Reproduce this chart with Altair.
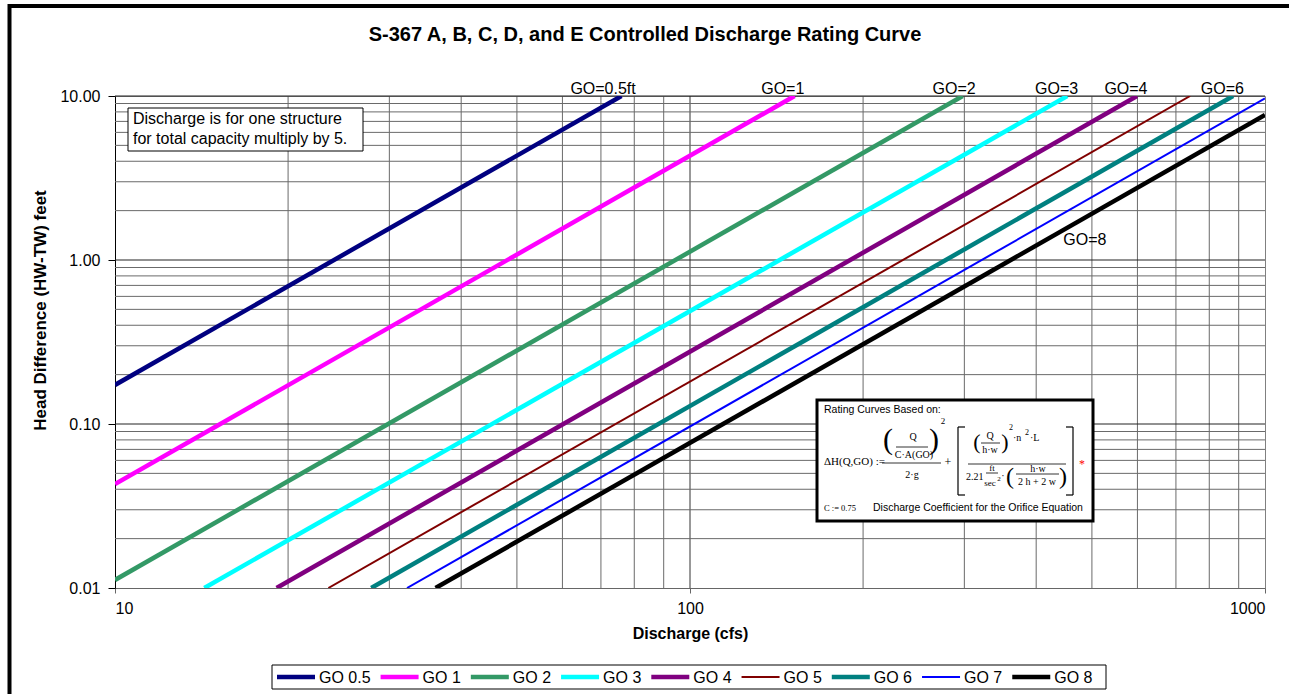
import altair as alt
import pandas as pd

# ---- rating lines: discharge (cfs) and head difference (ft) where each curve
# enters and leaves the plotted range
series = ["GO 0.5", "GO 1", "GO 2", "GO 3", "GO 4", "GO 5", "GO 6", "GO 7", "GO 8"]
colors = ["#000080", "#FF00FF", "#339966", "#00FFFF", "#800080",
          "#800000", "#008080", "#0000FF", "#000000"]
widths = [4.5, 4.5, 4.5, 4.5, 4.5, 2, 4.5, 2, 4.5]

q_start = [10, 10, 10, 14.3, 19.1, 23.5, 27.9, 32.2, 36.1]
h_start = [0.173, 0.043, 0.0112, 0.01, 0.01, 0.01, 0.01, 0.01, 0.01]
q_end = [76, 152, 298, 453, 599, 741, 880, 1000, 1000]
h_end = [10, 10, 10, 10, 10, 10, 10, 9.68, 7.66]

# ---- curve labels
top_labels = ["GO=0.5ft", "GO=1", "GO=2", "GO=3", "GO=4", "GO=6"]
top_label_q = [70.6, 145, 288, 434, 573, 843]
low_labels = ["GO=8"]
low_label_q = [486]
low_label_h = [1.32]

# ---- grid
x_minor = [20, 30, 40, 50, 60, 70, 80, 90, 200, 300, 400, 500, 600, 700, 800, 900]
x_major = [100]
y_minor = [0.02, 0.03, 0.04, 0.05, 0.06, 0.07, 0.08, 0.09,
           0.2, 0.3, 0.4, 0.5, 0.6, 0.7, 0.8, 0.9,
           2, 3, 4, 5, 6, 7, 8, 9]
y_major = [0.1, 1, 10]
x_ticks = [10, 100, 1000]
y_ticks = [0.01, 0.1, 1, 10]

SANS = "Liberation Sans"
SERIF = "Liberation Serif"
OX, OY = 115, 96          # plot origin inside the page
W, H = 1150, 492

rows = []
for s, x0, y0, x1, y1 in zip(series, q_start, h_start, q_end, h_end):
    rows.append({"series": s, "q": x0, "h": y0})
    rows.append({"series": s, "q": x1, "h": y1})
lines_df = pd.DataFrame(rows)

xs = alt.Scale(type="log", domain=[10, 1000], nice=False)
ys = alt.Scale(type="log", domain=[0.01, 10], nice=False)

x_axis = alt.Axis(values=x_ticks, format="d", grid=False, tickSize=5,
                  tickColor="#666666", domainColor="#666666",
                  labelFont=SANS, labelFontSize=16, labelColor="black",
                  labelPadding=7, title="Discharge (cfs)", titleFont=SANS,
                  titleFontSize=16, titleFontWeight="bold", titleColor="black",
                  titlePadding=9)
y_axis = alt.Axis(values=y_ticks, format=".2f", grid=False, tickSize=7,
                  tickColor="black", domainColor="black",
                  labelFont=SANS, labelFontSize=16, labelColor="black",
                  labelPadding=8, title="Head Difference (HW-TW) feet",
                  titleFont=SANS, titleFontSize=17, titleFontWeight="bold",
                  titleColor="black", titleX=-75, titleY=214,
                  titleBaseline="middle")

one = pd.DataFrame({"k": [0]})


def txt(px, py, s, size, font=SERIF, color="black", align="center",
        weight="normal"):
    return alt.Chart(one).mark_text(
        text=s, fontSize=size, font=font, color=color, align=align,
        baseline="middle", fontWeight=weight
    ).encode(x=alt.value(px - OX), y=alt.value(py - OY))


def seg(x1, y1, x2, y2, w=1.0, color="black"):
    return alt.Chart(one).mark_rule(color=color, strokeWidth=w).encode(
        x=alt.value(x1 - OX), x2=alt.value(x2 - OX),
        y=alt.value(y1 - OY), y2=alt.value(y2 - OY))


def box(x1, y1, x2, y2, w, opacity=1.0):
    return alt.Chart(one).mark_rect(
        fill="white", fillOpacity=opacity, stroke="black", strokeWidth=w
    ).encode(x=alt.value(x1 - OX), x2=alt.value(x2 - OX),
             y=alt.value(y1 - OY), y2=alt.value(y2 - OY))


gx_minor = alt.Chart(pd.DataFrame({"v": x_minor})).mark_rule(
    color="#6a6a6a", strokeWidth=1).encode(x=alt.X("v:Q", scale=xs, axis=x_axis))
gx_major = alt.Chart(pd.DataFrame({"v": x_major})).mark_rule(
    color="#333333", strokeWidth=1).encode(x=alt.X("v:Q", scale=xs, axis=x_axis))
gy_minor = alt.Chart(pd.DataFrame({"v": y_minor})).mark_rule(
    color="#6a6a6a", strokeWidth=1).encode(y=alt.Y("v:Q", scale=ys, axis=y_axis))
gy_major = alt.Chart(pd.DataFrame({"v": y_major})).mark_rule(
    color="#222222", strokeWidth=1).encode(y=alt.Y("v:Q", scale=ys, axis=y_axis))

curves = alt.Chart(lines_df).mark_line(clip=True, strokeCap="butt").encode(
    x=alt.X("q:Q", scale=xs, axis=x_axis),
    y=alt.Y("h:Q", scale=ys, axis=y_axis),
    color=alt.Color("series:N", scale=alt.Scale(domain=series, range=colors),
                    legend=None),
    strokeWidth=alt.StrokeWidth("series:N",
                                scale=alt.Scale(type="ordinal", domain=series,
                                                range=widths),
                                legend=None),
    detail="series:N",
)

top_text = alt.Chart(pd.DataFrame({"q": top_label_q, "h": [10] * len(top_labels),
                                   "t": top_labels})).mark_text(
    font=SANS, fontSize=16, color="black", baseline="middle", dy=-7
).encode(x=alt.X("q:Q", scale=xs, axis=x_axis),
         y=alt.Y("h:Q", scale=ys, axis=y_axis), text="t:N")

low_text = alt.Chart(pd.DataFrame({"q": low_label_q, "h": low_label_h,
                                   "t": low_labels})).mark_text(
    font=SANS, fontSize=16, color="black", baseline="middle"
).encode(x=alt.X("q:Q", scale=xs, axis=x_axis),
         y=alt.Y("h:Q", scale=ys, axis=y_axis), text="t:N")

# note box, upper left
note = [
    box(128, 108, 363, 151, 1),
    txt(133, 119, "Discharge is for one structure", 16, SANS, align="left"),
    txt(133, 139, "for total capacity multiply by 5.", 16, SANS, align="left"),
]

# equation box, lower right
eq = [
    box(817, 400, 1093, 521, 3),
    txt(824, 410, "Rating Curves Based on:", 10.5, SANS, align="left"),
    txt(824, 462, "\u0394H(Q,GO) :=", 11, align="left"),
    txt(888, 440, "(", 30), txt(934, 440, ")", 30),
    txt(943, 421, "2", 9),
    txt(913, 437, "Q", 10), seg(896, 447, 928, 447, 0.8),
    txt(914, 455, "C\u00b7A(GO)", 10),
    seg(882, 463, 941, 463, 0.8),
    txt(912, 475, "2\u00b7g", 10),
    txt(948, 462, "+", 12),
    seg(958, 427, 958, 495, 1.2), seg(958, 427, 965, 427, 1.2), seg(958, 495, 965, 495, 1.2),
    seg(1073, 427, 1073, 495, 1.2), seg(1066, 427, 1073, 427, 1.2), seg(1066, 495, 1073, 495, 1.2),
    txt(977, 442, "(", 22), txt(1005, 442, ")", 22),
    txt(990, 436, "Q", 10), seg(981, 443, 1000, 443, 0.8), txt(990, 450, "h\u00b7w", 10),
    txt(1011, 428, "2", 8),
    txt(1013, 438, "\u00b7n", 10, align="left"), txt(1025, 433, "2", 8, align="left"),
    txt(1030, 438, "\u00b7L", 10, align="left"),
    seg(968, 464, 1066, 464, 0.8),
    txt(966, 477, "2.21", 10, align="left"),
    txt(992, 468, "ft", 9), seg(986, 473, 998, 473, 0.8),
    txt(990, 483, "sec", 9), txt(999, 479, "2", 7),
    txt(1003, 476, "\u00b7", 10),
    txt(1010, 477, "(", 24), txt(1063, 477, ")", 24),
    txt(1038, 469, "h\u00b7w", 10), seg(1016, 474, 1059, 474, 0.8),
    txt(1037, 482, "2 h + 2 w", 10),
    txt(1082, 464, "*", 12, color="red"),
    txt(824, 508, "C := 0.75", 8.5, align="left"),
    txt(873, 508, "Discharge Coefficient for the Orifice Equation", 10.5, SANS, align="left"),
]

# legend strip below the axis title, built from the series lists
LEG_FS = 16
SYM = 38
leg = [box(272, 665, 1106, 689, 1)]
cx = 277
for s, c, w in zip(series, colors, widths):
    leg.append(seg(cx, 677, cx + SYM, 677, w, c))
    leg.append(txt(cx + SYM + 4, 678, s, LEG_FS, SANS, align="left"))
    # approximate Arial advance widths (em) for the label text
    em = sum(0.778 if ch in "GO" else 0.278 if ch in " ." else 0.556 for ch in s)
    cx += SYM + 4 + em * LEG_FS + 10

title = txt(645, 35, "S-367 A, B, C, D, and E Controlled Discharge Rating Curve",
            20, SANS, weight="bold")
frame = box(9.5, 6, 1310, 720, 4, opacity=0.0)

chart = alt.layer(
    gx_minor, gx_major, gy_minor, gy_major, curves, top_text, low_text,
    *note, *eq, *leg, title, frame
).properties(
    width=W, height=H,
    autosize=alt.AutoSizeParams(type="none"),
    padding={"left": OX, "top": OY, "right": 1289 - OX - W, "bottom": 694 - OY - H},
    background="white",
).configure_view(stroke="#808080", strokeWidth=1)

chart.save("out.html", embed_options={"renderer": "svg", "actions": False})
